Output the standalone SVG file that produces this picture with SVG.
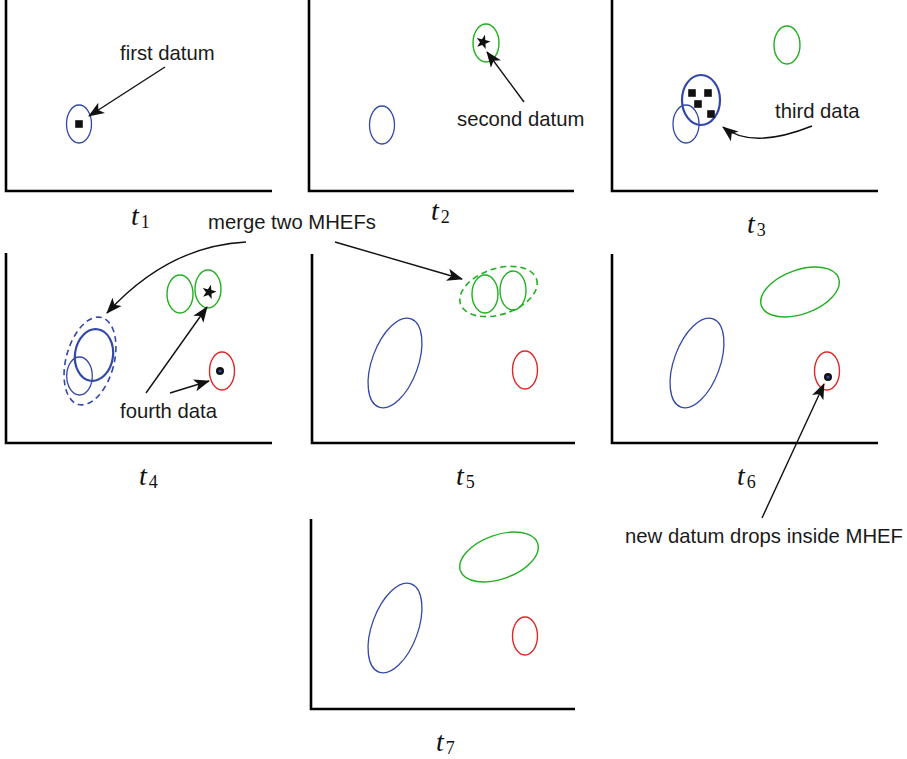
<svg xmlns="http://www.w3.org/2000/svg" width="907" height="759" viewBox="0 0 907 759">
<defs>
<style>
.ax{fill:none;stroke:#000;stroke-width:2.6}
.b{fill:none;stroke:#3348a8;stroke-width:1.3}
.bt{fill:none;stroke:#3348a8;stroke-width:2.2}
.bd{fill:none;stroke:#3348a8;stroke-width:1.6;stroke-dasharray:6 4}
.g{fill:none;stroke:#22b022;stroke-width:1.4}
.gd{fill:none;stroke:#22b022;stroke-width:1.6;stroke-dasharray:6 4}
.r{fill:none;stroke:#e02828;stroke-width:1.4}
.ar{fill:none;stroke:#111;stroke-width:1.4}
.lb{font-family:"Liberation Sans",Arial,sans-serif;font-size:20.3px;fill:#1a1a1a}
.tl{font-family:"Liberation Serif","Times New Roman",serif;font-style:italic;font-size:28px;fill:#111}
.sub{font-style:normal;font-size:18px}
</style>
<marker id="ah" markerUnits="userSpaceOnUse" markerWidth="18" markerHeight="14" refX="15" refY="7" orient="auto">
<path d="M0,0.8 L16,7 L0,13.2 L4,7 Z" fill="#111"/>
</marker>
<rect id="sq" x="-3.8" y="-3.8" width="7.6" height="7.6" fill="#111"/>
<polygon id="star" points="0,-7.5 1.76,-2.43 7.13,-2.32 2.85,0.93 4.41,6.07 0,3 -4.41,6.07 -2.85,0.93 -7.13,-2.32 -1.76,-2.43" fill="#111"/>
<g id="dot"><circle r="4" fill="#111"/><circle r="1.6" fill="#3348a8"/></g>
</defs>
<rect width="907" height="759" fill="#fff"/>

<g id="panel-t1">
<polyline class="ax" points="6,0 6,191 272,191"/>
<ellipse class="b" cx="79" cy="124" rx="12.5" ry="19"/>
<use href="#sq" x="79" y="124"/>
<text class="tl" x="131" y="225">t<tspan class="sub" dx="2" dy="3">1</tspan></text>
</g>

<g id="panel-t2">
<polyline class="ax" points="309,0 309,191 574,191"/>
<ellipse class="b" cx="382" cy="125" rx="12.5" ry="19"/>
<ellipse class="g" cx="486" cy="43" rx="13" ry="19"/>
<use href="#star" transform="translate(483,42) rotate(15)"/>
<text class="tl" x="431" y="220">t<tspan class="sub" dx="2" dy="3">2</tspan></text>
</g>

<g id="panel-t3">
<polyline class="ax" points="612,0 612,191 878,191"/>
<ellipse class="g" cx="787" cy="45" rx="13" ry="19"/>
<ellipse class="bt" cx="701" cy="100" rx="19" ry="25"/>
<ellipse class="b" cx="686" cy="124" rx="13" ry="19"/>
<use href="#sq" x="692" y="93"/>
<use href="#sq" x="708" y="93"/>
<use href="#sq" x="698" y="104"/>
<use href="#sq" x="711" y="114"/>
<text class="tl" x="747" y="233">t<tspan class="sub" dx="2" dy="3">3</tspan></text>
</g>

<g id="panel-t4">
<polyline class="ax" points="6,253 6,443 272,443"/>
<ellipse class="bd" cx="90" cy="361" rx="24" ry="45" transform="rotate(15 90 361)"/>
<ellipse class="bt" cx="94" cy="355" rx="19" ry="26" transform="rotate(8 94 355)"/>
<ellipse class="b" cx="79.5" cy="376" rx="12.8" ry="19"/>
<ellipse class="g" cx="180" cy="294" rx="13" ry="19"/>
<ellipse class="g" cx="208" cy="289" rx="13" ry="19"/>
<use href="#star" transform="translate(209,292) rotate(15)"/>
<ellipse class="r" cx="222" cy="371" rx="12.5" ry="19"/>
<use href="#dot" x="220" y="371"/>
<text class="tl" x="139" y="485">t<tspan class="sub" dx="2" dy="3">4</tspan></text>
</g>

<g id="panel-t5">
<polyline class="ax" points="312,254 312,443 575,443"/>
<ellipse class="b" cx="395" cy="363" rx="23" ry="47" transform="rotate(20 395 363)"/>
<ellipse class="gd" cx="498.5" cy="291.5" rx="40" ry="23" transform="rotate(-18 498.5 291.5)"/>
<ellipse class="g" cx="485" cy="294" rx="13" ry="19"/>
<ellipse class="g" cx="513" cy="290.5" rx="13" ry="19.5"/>
<ellipse class="r" cx="525" cy="370" rx="12.5" ry="19"/>
<text class="tl" x="456" y="485">t<tspan class="sub" dx="2" dy="3">5</tspan></text>
</g>

<g id="panel-t6">
<polyline class="ax" points="612,254 612,443 878,443"/>
<ellipse class="b" cx="697" cy="363" rx="23" ry="47" transform="rotate(20 697 363)"/>
<ellipse class="g" cx="800" cy="292" rx="41" ry="22" transform="rotate(-20 800 292)"/>
<ellipse class="r" cx="827" cy="371" rx="12.5" ry="19"/>
<use href="#dot" x="828" y="377"/>
<text class="tl" x="737" y="485">t<tspan class="sub" dx="2" dy="3">6</tspan></text>
</g>

<g id="panel-t7">
<polyline class="ax" points="311,519 311,709 575,709"/>
<ellipse class="b" cx="395" cy="628" rx="23" ry="47" transform="rotate(20 395 628)"/>
<ellipse class="g" cx="499" cy="557" rx="41" ry="22" transform="rotate(-20 499 557)"/>
<ellipse class="r" cx="525" cy="636" rx="12.5" ry="19"/>
<text class="tl" x="436" y="751">t<tspan class="sub" dx="2" dy="3">7</tspan></text>
</g>

<g id="annotations">
<text class="lb" x="120" y="60">first datum</text>
<text class="lb" x="457" y="126">second datum</text>
<text class="lb" x="775" y="118">third data</text>
<text class="lb" x="208" y="229">merge two MHEFs</text>
<text class="lb" x="120" y="418">fourth data</text>
<text class="lb" x="625" y="543" textLength="278">new datum drops inside MHEF</text>
</g>

<g id="connectors">
<line class="ar" x1="165" y1="67" x2="89" y2="116" marker-end="url(#ah)"/>
<line class="ar" x1="524" y1="102" x2="487" y2="52" marker-end="url(#ah)"/>
<path class="ar" d="M812,126 Q752,150 723,127" marker-end="url(#ah)"/>
<path class="ar" d="M246,242 Q168,246 107,313" marker-end="url(#ah)"/>
<line class="ar" x1="335" y1="242" x2="462" y2="279" marker-end="url(#ah)"/>
<line class="ar" x1="146" y1="393" x2="207" y2="307" marker-end="url(#ah)"/>
<line class="ar" x1="170" y1="393" x2="209" y2="381" marker-end="url(#ah)"/>
<line class="ar" x1="762" y1="518" x2="824" y2="384" marker-end="url(#ah)"/>
</g>
</svg>
